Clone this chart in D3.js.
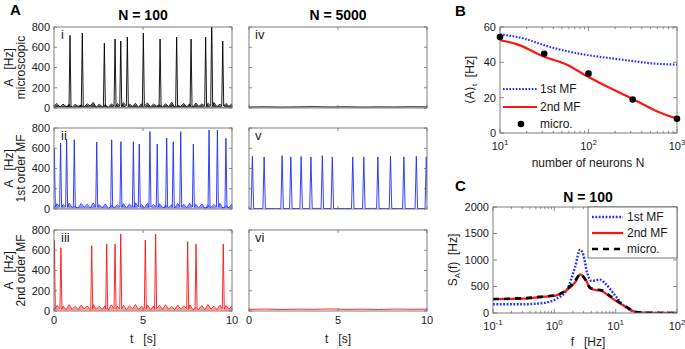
<!DOCTYPE html>
<html><head><meta charset="utf-8">
<script src="https://cdn.jsdelivr.net/npm/d3@7"></script>
<style>body{margin:0;background:#fff} svg{font-family:"Liberation Sans",Arial,sans-serif}</style>
</head><body><svg id="c" width="685" height="349"></svg>
<script>
// ---------------- data ----------------
const timeTicks=[0,5,10];
const rateTicks=[0,200,400,600,800];
// Panel A, N = 100
const spikeTimesI=[0.90,1.59,2.83,3.43,3.75,4.12,5.02,5.96,6.89,7.70,8.52,8.86,9.48];
const spikeHeightsI=[717,740,641,681,661,701,740,681,701,681,701,900,661];
const noiseI=[22,44,9,38,14,51,7,35,17,46,10,41,19,56,8,37,12,48,6,40,15,43,11,53,9,38,17,46,7,42,14,50,10,39,18,47,8,43,13,58,9,36,16,45,11,41,7,49,15,40,12,46,9,54,13,38,10,44,17,42];
const spikeTimesII=[0.02,0.37,0.71,1.14,2.40,3.24,3.76,4.46,4.79,5.39,5.80,6.33,6.70,7.12,7.83,8.71,9.18,9.66];
const spikeHeightsII=[600,652,691,684,661,684,665,665,642,764,642,701,665,764,642,780,780,698];
const noiseII=[30,52,12,45,8,58,15,40,10,55,18,47,9,60,14,43,11,50,7,56,16,42,12,53,9,48,17,61,10,44,13,57,8,46,15,52,11,59,14,41,9,54,16,47,12,58,10,45,13,50,8,62,15,44,11,55,9,49,14,52];
const spikeTimesIII=[0.02,0.39,2.12,2.96,3.43,3.75,5.13,5.71,7.51,7.98,9.51];
const spikeHeightsIII=[700,625,645,662,662,760,700,760,685,662,662];
const noiseIII=[35,55,15,48,12,62,18,45,14,58,20,50,13,65,17,47,15,55,11,60,19,46,16,57,13,52,20,63,14,48,17,60,12,50,18,56,15,62,17,45,13,58,19,50,15,61,14,48,16,54,12,64,18,47,14,58,13,52,17,55];
// Panel A, N = 5000
const noiseIV=[10,12,9,11,13,10,12,9,11,10,12,11];
const spikeTimesV=[0.19,0.85,1.86,2.35,2.93,3.48,4.12,4.68,5.83,6.45,7.24,7.95,8.70,9.40,9.96];
const spikeHeightsV=[520,514,527,514,520,514,527,514,514,514,514,520,514,520,514];
const noiseV=[4,6,3,5,4,6,3,5,4,6,3,5,4,6];
const noiseVI=[16,19,15,18,17,20,16,18,15,19,17,18];
// Panel B
const neuronTicks=[10,100,1000];
const meanRateTicks=[0,20,40,60];
const bN1=[10,20,32,50,100,200,330,500,1000];
const bRate1st=[56,53,49.6,47,44,42,40.6,39.5,38.7];
const bN2=[10,16,32,54,100,182,323,566,1000];
const bRate2nd=[52.5,50,43,39.2,31.7,25,19,12.8,8.1];
const microN=[10,31.6,100,316,1000];
const microRate=[54.3,44.9,33.6,19,8.1];
// Panel C
const freqTicks=[0.1,1,10,100];
const psdTicks=[0,500,1000,1500,2000];
const cF1=[0.1,0.129,0.31,0.66,1.09,1.59,2.18,2.63,2.99,3.4,4.08,5.6,6.8,9.3,12.6,17.4,22.3,40,100];
const cPsd1st=[164,164,164,190,270,430,870,1195,1090,775,605,630,555,365,176,50,13,2,0];
const cF2=[0.1,0.31,0.58,1.09,1.6,2.2,2.65,3.3,3.84,4.9,5.9,8.2,11.9,16.3,21,30,100];
const cPsd2nd=[264,270,300,333,430,585,730,615,460,430,415,300,176,82,19,3,0];
const cPsdMicro=[262,278,305,338,448,612,735,605,475,442,430,318,190,88,22,4,0];

// ---------------- drawing ----------------
const svg=d3.select("#c");
const AX="#6f6f6f", TXT="#1a1a1a";
const BLUE="#1f2eff", RED="#ff1414";
let clipId=0;

function frame(g,x,y,o){
  const [x0,x1]=x.range(), [yb,yt]=y.range();
  const ticks=g.append("g").attr("stroke",AX).attr("stroke-width",0.8);
  const tl=o.tl||3;
  o.xt.forEach(v=>{const px=x(v);
    ticks.append("line").attr("x1",px).attr("x2",px).attr("y1",yb).attr("y2",yb-tl);
    ticks.append("line").attr("x1",px).attr("x2",px).attr("y1",yt).attr("y2",yt+tl);});
  (o.xminor||[]).forEach(v=>{const px=x(v);
    ticks.append("line").attr("x1",px).attr("x2",px).attr("y1",yb).attr("y2",yb-tl*0.55);
    ticks.append("line").attr("x1",px).attr("x2",px).attr("y1",yt).attr("y2",yt+tl*0.55);});
  o.yt.forEach(v=>{const py=y(v);
    ticks.append("line").attr("x1",x0).attr("x2",x0+tl).attr("y1",py).attr("y2",py);
    ticks.append("line").attr("x1",x1).attr("x2",x1-tl).attr("y1",py).attr("y2",py);});
  g.append("rect").attr("x",x0).attr("y",yt).attr("width",x1-x0).attr("height",yb-yt)
    .attr("fill","none").attr("stroke",AX).attr("stroke-width",0.9);
  if(o.ylab){o.yt.forEach(v=>g.append("text").attr("x",x0-4).attr("y",y(v)).attr("dy","0.35em")
    .attr("text-anchor","end").attr("font-size",11).attr("fill",TXT).text(v));}
  if(o.xlab){o.xt.forEach(v=>{
    const t=g.append("text").attr("x",x(v)).attr("y",yb+o.xlabOff).attr("text-anchor","middle")
      .attr("font-size",11).attr("fill",TXT);
    if(o.pow){t.text("10");t.append("tspan").attr("dy",-5).attr("font-size",8).text(Math.round(Math.log10(v)));}
    else t.text(v);});}
}
function clip(g,x,y){
  const id="cl"+(clipId++);
  const [x0,x1]=x.range(), [yb,yt]=y.range();
  g.append("clipPath").attr("id",id).append("rect").attr("x",x0).attr("y",yt).attr("width",x1-x0).attr("height",yb-yt);
  return "url(#"+id+")";
}
function trace(noise,sT,sH,base,hw){
  const pts=[];
  noise.forEach((v,k)=>{const t=k*10/(noise.length-1);
    if(!sT.some(s=>Math.abs(s-t)<hw*1.2)) pts.push([t,v]);});
  sT.forEach((s,i)=>{pts.push([s-hw,base]);pts.push([s,sH[i]]);pts.push([s+hw,base]);});
  pts.sort((a,b)=>a[0]-b[0]);
  return pts;
}
const rows=[[27,108],[128,209],[230,311]];
const cols=[[54,232],[249,427]];
const panelsA=[
 {r:0,c:0,lab:"i",col:"#000",noise:noiseI,band:0.75,pts:trace(noiseI,spikeTimesI,spikeHeightsI,20,0.055)},
 {r:1,c:0,lab:"ii",col:BLUE,noise:noiseII,band:0.55,pts:trace(noiseII,spikeTimesII,spikeHeightsII,20,0.055)},
 {r:2,c:0,lab:"iii",col:RED,noise:noiseIII,band:0.45,pts:trace(noiseIII,spikeTimesIII,spikeHeightsIII,22,0.055)},
 {r:0,c:1,lab:"iv",col:"#000",pts:trace(noiseIV,[],[],0,0.07)},
 {r:1,c:1,lab:"v",col:BLUE,pts:trace(noiseV,spikeTimesV,spikeHeightsV,5,0.07)},
 {r:2,c:1,lab:"vi",col:RED,pts:trace(noiseVI,[],[],0,0.07)}
];
panelsA.forEach(p=>{
  const g=svg.append("g");
  const x=d3.scaleLinear().domain([0,10]).range(cols[p.c]);
  const y=d3.scaleLinear().domain([0,800]).range([rows[p.r][1],rows[p.r][0]]);
  const cp=clip(g,x,y);
  if(p.noise){
    const n=p.noise.length;
    g.append("path").attr("clip-path",cp)
      .attr("d",d3.area().x((d,k)=>x(k*10/(n-1))).y0(y(4)).y1(d=>y(d*0.8))(p.noise))
      .attr("fill",p.col).attr("fill-opacity",p.band);
  }
  g.append("path").attr("clip-path",cp).attr("d",d3.line().x(d=>x(d[0])).y(d=>y(d[1]))(p.pts))
    .attr("fill","none").attr("stroke",p.col).attr("stroke-width",1).attr("stroke-opacity",0.9);
  frame(g,x,y,{xt:timeTicks,yt:rateTicks,ylab:p.c===0,xlab:p.r===2,xlabOff:13});
  g.append("text").attr("x",cols[p.c][0]+(p.c===0?7:6)).attr("y",rows[p.r][0]+12)
    .attr("font-size",13).attr("fill",TXT).text(p.lab);
  if(p.c===0){
    const cy=(rows[p.r][0]+rows[p.r][1])/2;
    const names=["microscopic","1st order MF","2nd order MF"];
    g.append("text").attr("transform",`translate(13,${cy}) rotate(-90)`).attr("text-anchor","middle")
      .attr("font-size",12).attr("fill",TXT).attr("xml:space","preserve").text("A   [Hz]");
    g.append("text").attr("transform",`translate(25,${cy}) rotate(-90)`).attr("text-anchor","middle")
      .attr("font-size",12).attr("fill",TXT).text(names[p.r]);
  }
  if(p.r===2){
    svg.append("text").attr("x",(cols[p.c][0]+cols[p.c][1])/2).attr("y",343).attr("text-anchor","middle")
      .attr("font-size",12).attr("fill",TXT).attr("xml:space","preserve").text("t   [s]");
  }
});
svg.append("text").attr("x",143).attr("y",20).attr("text-anchor","middle").attr("font-size",14).attr("font-weight","bold").text("N = 100");
svg.append("text").attr("x",338).attr("y",20).attr("text-anchor","middle").attr("font-size",14).attr("font-weight","bold").text("N = 5000");
svg.append("text").attr("x",10).attr("y",15).attr("font-size",15).attr("font-weight","bold").text("A");
svg.append("text").attr("x",455).attr("y",16).attr("font-size",15).attr("font-weight","bold").text("B");
svg.append("text").attr("x",455).attr("y",191).attr("font-size",15).attr("font-weight","bold").text("C");

// minor log ticks helper
function minors(lo,hi){const m=[];for(let d=lo;d<hi;d*=10)for(let k=2;k<10;k++)m.push(d*k);return m;}

// ---- Panel B ----
{
  const g=svg.append("g");
  const x=d3.scaleLog().domain([10,1000]).range([500,677]);
  const y=d3.scaleLinear().domain([0,60]).range([133,27]);
  const cp=clip(g,x,y);
  g.append("path").attr("d",d3.line().curve(d3.curveMonotoneX).x((d,i)=>x(bN1[i])).y(d=>y(d))(bRate1st))
    .attr("fill","none").attr("stroke",BLUE).attr("stroke-width",2.2).attr("stroke-dasharray","1.6,1.6").attr("clip-path",cp);
  g.append("path").attr("d",d3.line().curve(d3.curveMonotoneX).x((d,i)=>x(bN2[i])).y(d=>y(d))(bRate2nd))
    .attr("fill","none").attr("stroke",RED).attr("stroke-width",2.2).attr("clip-path",cp);
  frame(g,x,y,{xt:neuronTicks,xminor:minors(10,1000),yt:meanRateTicks,ylab:true,xlab:true,xlabOff:17,pow:true,tl:4});
  g.selectAll("circle.m").data(microRate).enter().append("circle")
    .attr("cx",(d,i)=>x(microN[i])).attr("cy",d=>y(d)).attr("r",3.3).attr("fill","#000");
  // legend
  const lg=[{t:"1st MF",y:89},{t:"2nd MF",y:107},{t:"micro.",y:124}];
  g.append("line").attr("x1",503).attr("x2",537).attr("y1",89).attr("y2",89).attr("stroke",BLUE).attr("stroke-width",2.2).attr("stroke-dasharray","1.6,1.6");
  g.append("line").attr("x1",503).attr("x2",537).attr("y1",107).attr("y2",107).attr("stroke",RED).attr("stroke-width",2.2);
  g.append("circle").attr("cx",521).attr("cy",124).attr("r",3.3).attr("fill","#000");
  lg.forEach(d=>g.append("text").attr("x",540).attr("y",d.y).attr("dy","0.35em").attr("font-size",12).attr("fill",TXT).text(d.t));
  g.append("text").attr("x",588).attr("y",167).attr("text-anchor","middle").attr("font-size",12).attr("fill",TXT).text("number of neurons N");
  const yl=g.append("text").attr("transform","translate(474,80) rotate(-90)").attr("text-anchor","middle").attr("font-size",12).attr("fill",TXT).attr("xml:space","preserve");
  yl.append("tspan").text("\u27E8A\u27E9");
  yl.append("tspan").attr("font-size",8).attr("dy",3).text("t");
  yl.append("tspan").attr("dy",-3).text("  [Hz]");
}
// ---- Panel C ----
{
  const g=svg.append("g");
  const x=d3.scaleLog().domain([0.1,100]).range([493,677]);
  const y=d3.scaleLinear().domain([0,2000]).range([313,207]);
  const cp=clip(g,x,y);
  g.append("path").attr("d",d3.line().curve(d3.curveMonotoneX).x((d,i)=>x(cF1[i])).y(d=>y(d))(cPsd1st))
    .attr("fill","none").attr("stroke",BLUE).attr("stroke-width",2.4).attr("stroke-dasharray","1.8,1.6").attr("clip-path",cp);
  g.append("path").attr("d",d3.line().curve(d3.curveMonotoneX).x((d,i)=>x(cF2[i])).y(d=>y(d))(cPsd2nd))
    .attr("fill","none").attr("stroke",RED).attr("stroke-width",2.2).attr("clip-path",cp);
  g.append("path").attr("d",d3.line().curve(d3.curveMonotoneX).x((d,i)=>x(cF2[i])).y(d=>y(d))(cPsdMicro))
    .attr("fill","none").attr("stroke","#000").attr("stroke-width",2.6).attr("stroke-dasharray","6,5").attr("clip-path",cp);
  frame(g,x,y,{xt:freqTicks,xminor:minors(0.1,100),yt:psdTicks,ylab:true,xlab:true,xlabOff:17,pow:true,tl:4});
  // legend box
  g.append("rect").attr("x",588).attr("y",207).attr("width",89).attr("height",51).attr("fill","#fff").attr("stroke","#555").attr("stroke-width",0.8);
  g.append("line").attr("x1",592).attr("x2",623).attr("y1",217).attr("y2",217).attr("stroke",BLUE).attr("stroke-width",2.4).attr("stroke-dasharray","1.8,1.6");
  g.append("line").attr("x1",592).attr("x2",623).attr("y1",233).attr("y2",233).attr("stroke",RED).attr("stroke-width",2.2);
  g.append("line").attr("x1",592).attr("x2",623).attr("y1",249).attr("y2",249).attr("stroke","#000").attr("stroke-width",2.6).attr("stroke-dasharray","6,5");
  [{t:"1st MF",y:217},{t:"2nd MF",y:233},{t:"micro.",y:249}].forEach(d=>
    g.append("text").attr("x",627).attr("y",d.y).attr("dy","0.35em").attr("font-size",12).attr("fill",TXT).text(d.t));
  g.append("text").attr("x",588).attr("y",202).attr("text-anchor","middle").attr("font-size",14).attr("font-weight","bold").text("N = 100");
  g.append("text").attr("x",588).attr("y",346).attr("text-anchor","middle").attr("font-size",12).attr("fill",TXT).attr("xml:space","preserve").text("f   [Hz]");
  const yl=g.append("text").attr("transform","translate(457,260) rotate(-90)").attr("text-anchor","middle").attr("font-size",12).attr("fill",TXT).attr("xml:space","preserve");
  yl.append("tspan").text("S");
  yl.append("tspan").attr("font-size",8).attr("dy",3).text("A");
  yl.append("tspan").attr("dy",-3).text("(f)  [Hz]");
}
</script></body></html>
